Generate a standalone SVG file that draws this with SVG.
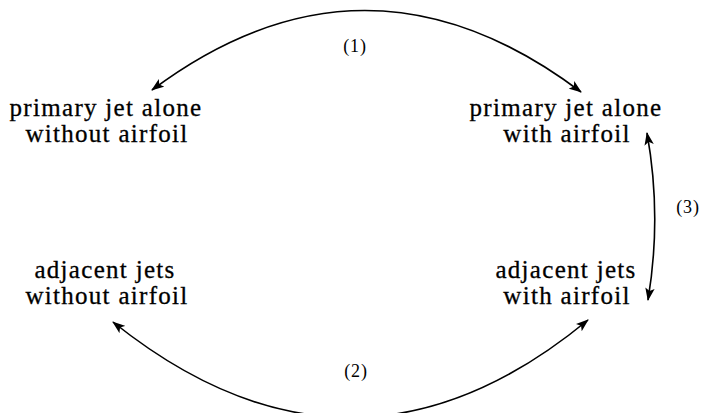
<svg xmlns="http://www.w3.org/2000/svg" width="704" height="413" viewBox="0 0 704 413">
<style>
.n { font-family: "Liberation Serif", "Times New Roman", serif; font-size: 25px; letter-spacing: 1.3px; fill: #000; stroke: #000; stroke-width: 0.3; text-anchor: middle; }
.l { font-family: "Liberation Serif", "Times New Roman", serif; font-size: 18px; letter-spacing: 0.8px; fill: #000; text-anchor: middle; }
.c { fill: none; stroke: #000; stroke-width: 1.6; }
</style>
<defs>
<marker id="ah" viewBox="0 0 13 10" refX="12" refY="5" markerWidth="13" markerHeight="10" markerUnits="userSpaceOnUse" orient="auto-start-reverse">
<path d="M0,0.3 L13,5 L0,9.7 L3,5 Z" fill="#000"/>
</marker>
</defs>
<rect width="704" height="413" fill="#fff"/>
<g id="connectors">
<path class="c" d="M152,90 Q366,-70 581,92" marker-start="url(#ah)" marker-end="url(#ah)"/>
<path class="c" d="M113,322 Q353,514 588,320" marker-start="url(#ah)" marker-end="url(#ah)"/>
<path class="c" d="M647,133 Q662,216 648,300" marker-start="url(#ah)" marker-end="url(#ah)"/>
<text class="l" x="355" y="52">(1)</text>
<text class="l" x="356" y="377">(2)</text>
<text class="l" x="688" y="213">(3)</text>
</g>
<g id="node-primary-without">
<text class="n" x="106" y="116">primary jet alone</text>
<text class="n" x="107" y="142">without airfoil</text>
</g>
<g id="node-primary-with">
<text class="n" x="566" y="116">primary jet alone</text>
<text class="n" x="567" y="142">with airfoil</text>
</g>
<g id="node-adjacent-without">
<text class="n" x="105" y="278">adjacent jets</text>
<text class="n" x="107" y="304">without airfoil</text>
</g>
<g id="node-adjacent-with">
<text class="n" x="566" y="278">adjacent jets</text>
<text class="n" x="567" y="304">with airfoil</text>
</g>
</svg>
